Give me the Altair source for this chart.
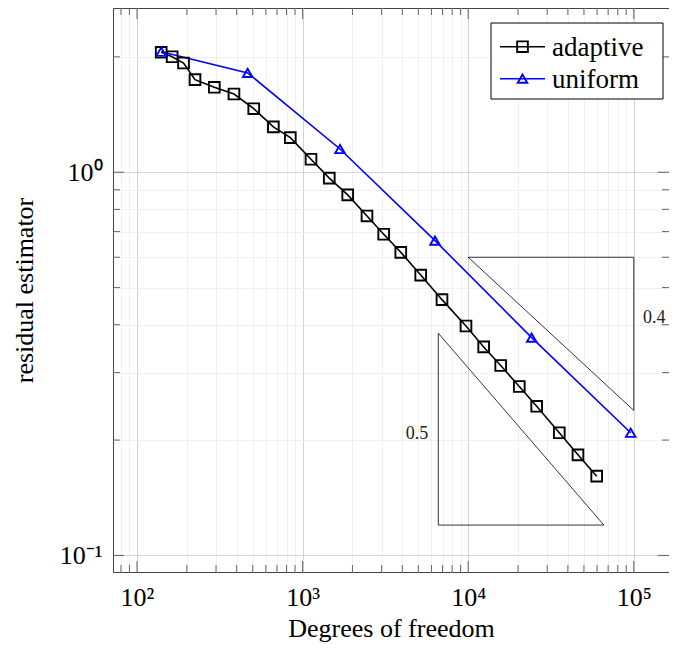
import altair as alt
import pandas as pd

# ---------------- data ----------------
adaptive_dofs = [140, 163, 191, 224, 293, 385, 507, 666, 843, 1124, 1449, 1873, 2448,
                 3089, 3917, 5168, 6947, 9698, 12405, 15719, 20351, 25922, 35489, 46030, 59704]
adaptive_est = [2.056, 2.002, 1.928, 1.744, 1.666, 1.600, 1.465, 1.313, 1.231, 1.081, 0.965,
                0.873, 0.769, 0.689, 0.618, 0.539, 0.465, 0.397, 0.350, 0.313, 0.276, 0.245,
                0.209, 0.183, 0.161]
uniform_dofs = [140, 466, 1682, 6303, 24176, 95790]
uniform_est = [2.063, 1.816, 1.150, 0.663, 0.370, 0.209]

series_names = ["adaptive", "uniform"]
series_colors = ["black", "#0000ff"]
series_shapes = ["square", "triangle-up"]
series_sizes = [115, 90]

# slope triangles
tri_id = ["0.4", "0.4", "0.4", "0.4", "0.5", "0.5", "0.5", "0.5"]
tri_x = [10000, 100000, 100000, 10000, 6600, 6600, 66000, 6600]
tri_y = [0.6, 0.6, 0.239, 0.6, 0.38, 0.12, 0.12, 0.38]
slope_text = ["0.4", "0.5"]
slope_x = [113700, 5741]
slope_y = [0.417, 0.2077]
slope_align = ["left", "right"]

# axis ticks
x_major = [100, 1000, 10000, 100000]
x_major_labels = ["10²", "10³", "10⁴", "10⁵"]
x_minor = [80, 90, 200, 300, 400, 500, 600, 700, 800, 900,
           2000, 3000, 4000, 5000, 6000, 7000, 8000, 9000,
           20000, 30000, 40000, 50000, 60000, 70000, 80000, 90000]
y_major = [0.1, 1]
y_major_labels = ["10⁻¹", "10⁰"]
y_minor = [0.2, 0.3, 0.4, 0.5, 0.6, 0.7, 0.8, 0.9, 2]

x_domain = [71.62, 163200]
y_domain = [0.09051, 2.683]

# ---------------- build ----------------
FONT = "Liberation Serif"
W, H = 556, 564

df = pd.DataFrame({
    "dofs": adaptive_dofs + uniform_dofs,
    "est": adaptive_est + uniform_est,
    "series": ["adaptive"] * len(adaptive_dofs) + ["uniform"] * len(uniform_dofs),
})
tri_df = pd.DataFrame({"tri": tri_id, "x": tri_x, "y": tri_y, "ord": list(range(len(tri_x)))})
lab_df = pd.DataFrame({"t": slope_text, "x": slope_x, "y": slope_y, "al": slope_align})
xt_major = pd.DataFrame({"v": x_major})
xt_minor = pd.DataFrame({"v": x_minor})
yt_major = pd.DataFrame({"v": y_major})
yt_minor = pd.DataFrame({"v": y_minor})
one = pd.DataFrame({"a": [0]})


def label_expr(vals, labels):
    expr = "''"
    for v, l in zip(reversed(vals), reversed(labels)):
        expr = f"datum.value == {v} ? '{l}' : ({expr})"
    return expr


def grid_test(vals):
    return "indexof([" + ",".join(str(v) for v in vals) + "], datum.value) >= 0"


xs = alt.Scale(type="log", domain=x_domain, nice=False)
ys = alt.Scale(type="log", domain=y_domain, nice=False)

x_axis = alt.Axis(
    values=sorted(x_major + x_minor), labelExpr=label_expr(x_major, x_major_labels),
    grid=True, gridColor={"condition": {"test": grid_test(x_major), "value": "#c8c8c8"}, "value": "#ececec"},
    gridWidth=0.8, ticks=False, domain=False,
    labelFont=FONT, labelFontSize=26, labelColor="black", labelPadding=12,
    labelOverlap=False, labelFlush=False, labelBound=False,
    title="Degrees of freedom", titleFont=FONT, titleFontSize=26, titleFontWeight="normal",
    titleColor="black", titleY=64, titleBaseline="alphabetic",
)
y_axis = alt.Axis(
    values=sorted(y_major + y_minor), labelExpr=label_expr(y_major, y_major_labels),
    grid=True, gridColor={"condition": {"test": grid_test(y_major), "value": "#c8c8c8"}, "value": "#ececec"},
    gridWidth=0.8, ticks=False, domain=False,
    labelFont=FONT, labelFontSize=26, labelColor="black", labelPadding=11,
    labelOverlap=False, labelFlush=False, labelBound=False, labelBaseline="middle",
    title="residual estimator", titleFont=FONT, titleFontSize=26, titleFontWeight="normal",
    titleColor="black", titleX=-89, titleY=282, titleBaseline="middle", titleAlign="center",
)

color = alt.Color("series:N", scale=alt.Scale(domain=series_names, range=series_colors), legend=None)

base = alt.Chart(df)
lines = base.mark_line(strokeWidth=1.6, clip=True).encode(
    x=alt.X("dofs:Q", scale=xs, axis=x_axis),
    y=alt.Y("est:Q", scale=ys, axis=y_axis),
    color=color,
)
points = base.mark_point(filled=False, strokeWidth=1.9, opacity=1, clip=True).encode(
    x=alt.X("dofs:Q", scale=xs),
    y=alt.Y("est:Q", scale=ys),
    color=color,
    shape=alt.Shape("series:N", scale=alt.Scale(domain=series_names, range=series_shapes), legend=None),
    size=alt.Size("series:N", scale=alt.Scale(domain=series_names, range=series_sizes), legend=None),
)
tris = alt.Chart(tri_df).mark_line(strokeWidth=0.8, color="black").encode(
    x=alt.X("x:Q", scale=xs), y=alt.Y("y:Q", scale=ys), detail="tri:N", order="ord:Q")
lab_l = alt.Chart(lab_df).transform_filter("datum.al == 'left'").mark_text(
    font=FONT, fontSize=18, align="left", baseline="middle", color="#222").encode(
    x=alt.X("x:Q", scale=xs), y=alt.Y("y:Q", scale=ys), text="t:N")
lab_r = alt.Chart(lab_df).transform_filter("datum.al == 'right'").mark_text(
    font=FONT, fontSize=18, align="right", baseline="middle", color="#222").encode(
    x=alt.X("x:Q", scale=xs), y=alt.Y("y:Q", scale=ys), text="t:N")

TICK = dict(color="#555", strokeWidth=0.9)
MAJ, MIN = 11, 7
tick_layers = []
for d, ln in ((xt_major, MAJ), (xt_minor, MIN)):
    tick_layers.append(alt.Chart(d).mark_rule(**TICK).encode(
        x=alt.X("v:Q", scale=xs), y=alt.value(H), y2=alt.value(H - ln)))
    tick_layers.append(alt.Chart(d).mark_rule(**TICK).encode(
        x=alt.X("v:Q", scale=xs), y=alt.value(0), y2=alt.value(ln)))
for d, ln in ((yt_major, MAJ), (yt_minor, MIN)):
    tick_layers.append(alt.Chart(d).mark_rule(**TICK).encode(
        y=alt.Y("v:Q", scale=ys), x=alt.value(0), x2=alt.value(ln)))
    tick_layers.append(alt.Chart(d).mark_rule(**TICK).encode(
        y=alt.Y("v:Q", scale=ys), x=alt.value(W), x2=alt.value(W - ln)))

# legend (drawn by hand, pgfplots style: line with marker in the middle)
LX0, LX1, LY0, LY1 = 378, 550, 15, 91
legend_layers = [alt.Chart(one).mark_rect(fill="white", stroke="black", strokeWidth=1).encode(
    x=alt.value(LX0), x2=alt.value(LX1), y=alt.value(LY0), y2=alt.value(LY1))]
row_y = [38.7, 70.7]
for name, col, shp, sz, ry in zip(series_names, series_colors, series_shapes, series_sizes, row_y):
    legend_layers.append(alt.Chart(one).mark_rule(color=col, strokeWidth=1.6).encode(
        x=alt.value(387), x2=alt.value(432), y=alt.value(ry)))
    legend_layers.append(alt.Chart(one).mark_point(
        shape=shp, color=col, filled=False, strokeWidth=1.9, size=sz, opacity=1).encode(
        x=alt.value(409.5), y=alt.value(ry)))
    legend_layers.append(alt.Chart(one).mark_text(
        text=name, font=FONT, fontSize=27, align="left", baseline="middle", color="black").encode(
        x=alt.value(439), y=alt.value(ry + 1)))

chart = alt.layer(lines, *tick_layers, tris, lab_l, lab_r, points, *legend_layers).properties(
    width=W, height=H,
    autosize=alt.AutoSizeParams(type="none"),
    padding={"left": 105, "top": 0, "right": 0, "bottom": 70},
).configure_view(stroke="#444", strokeWidth=1)

chart.save("out.html", embed_options={"renderer": "svg", "actions": False})
